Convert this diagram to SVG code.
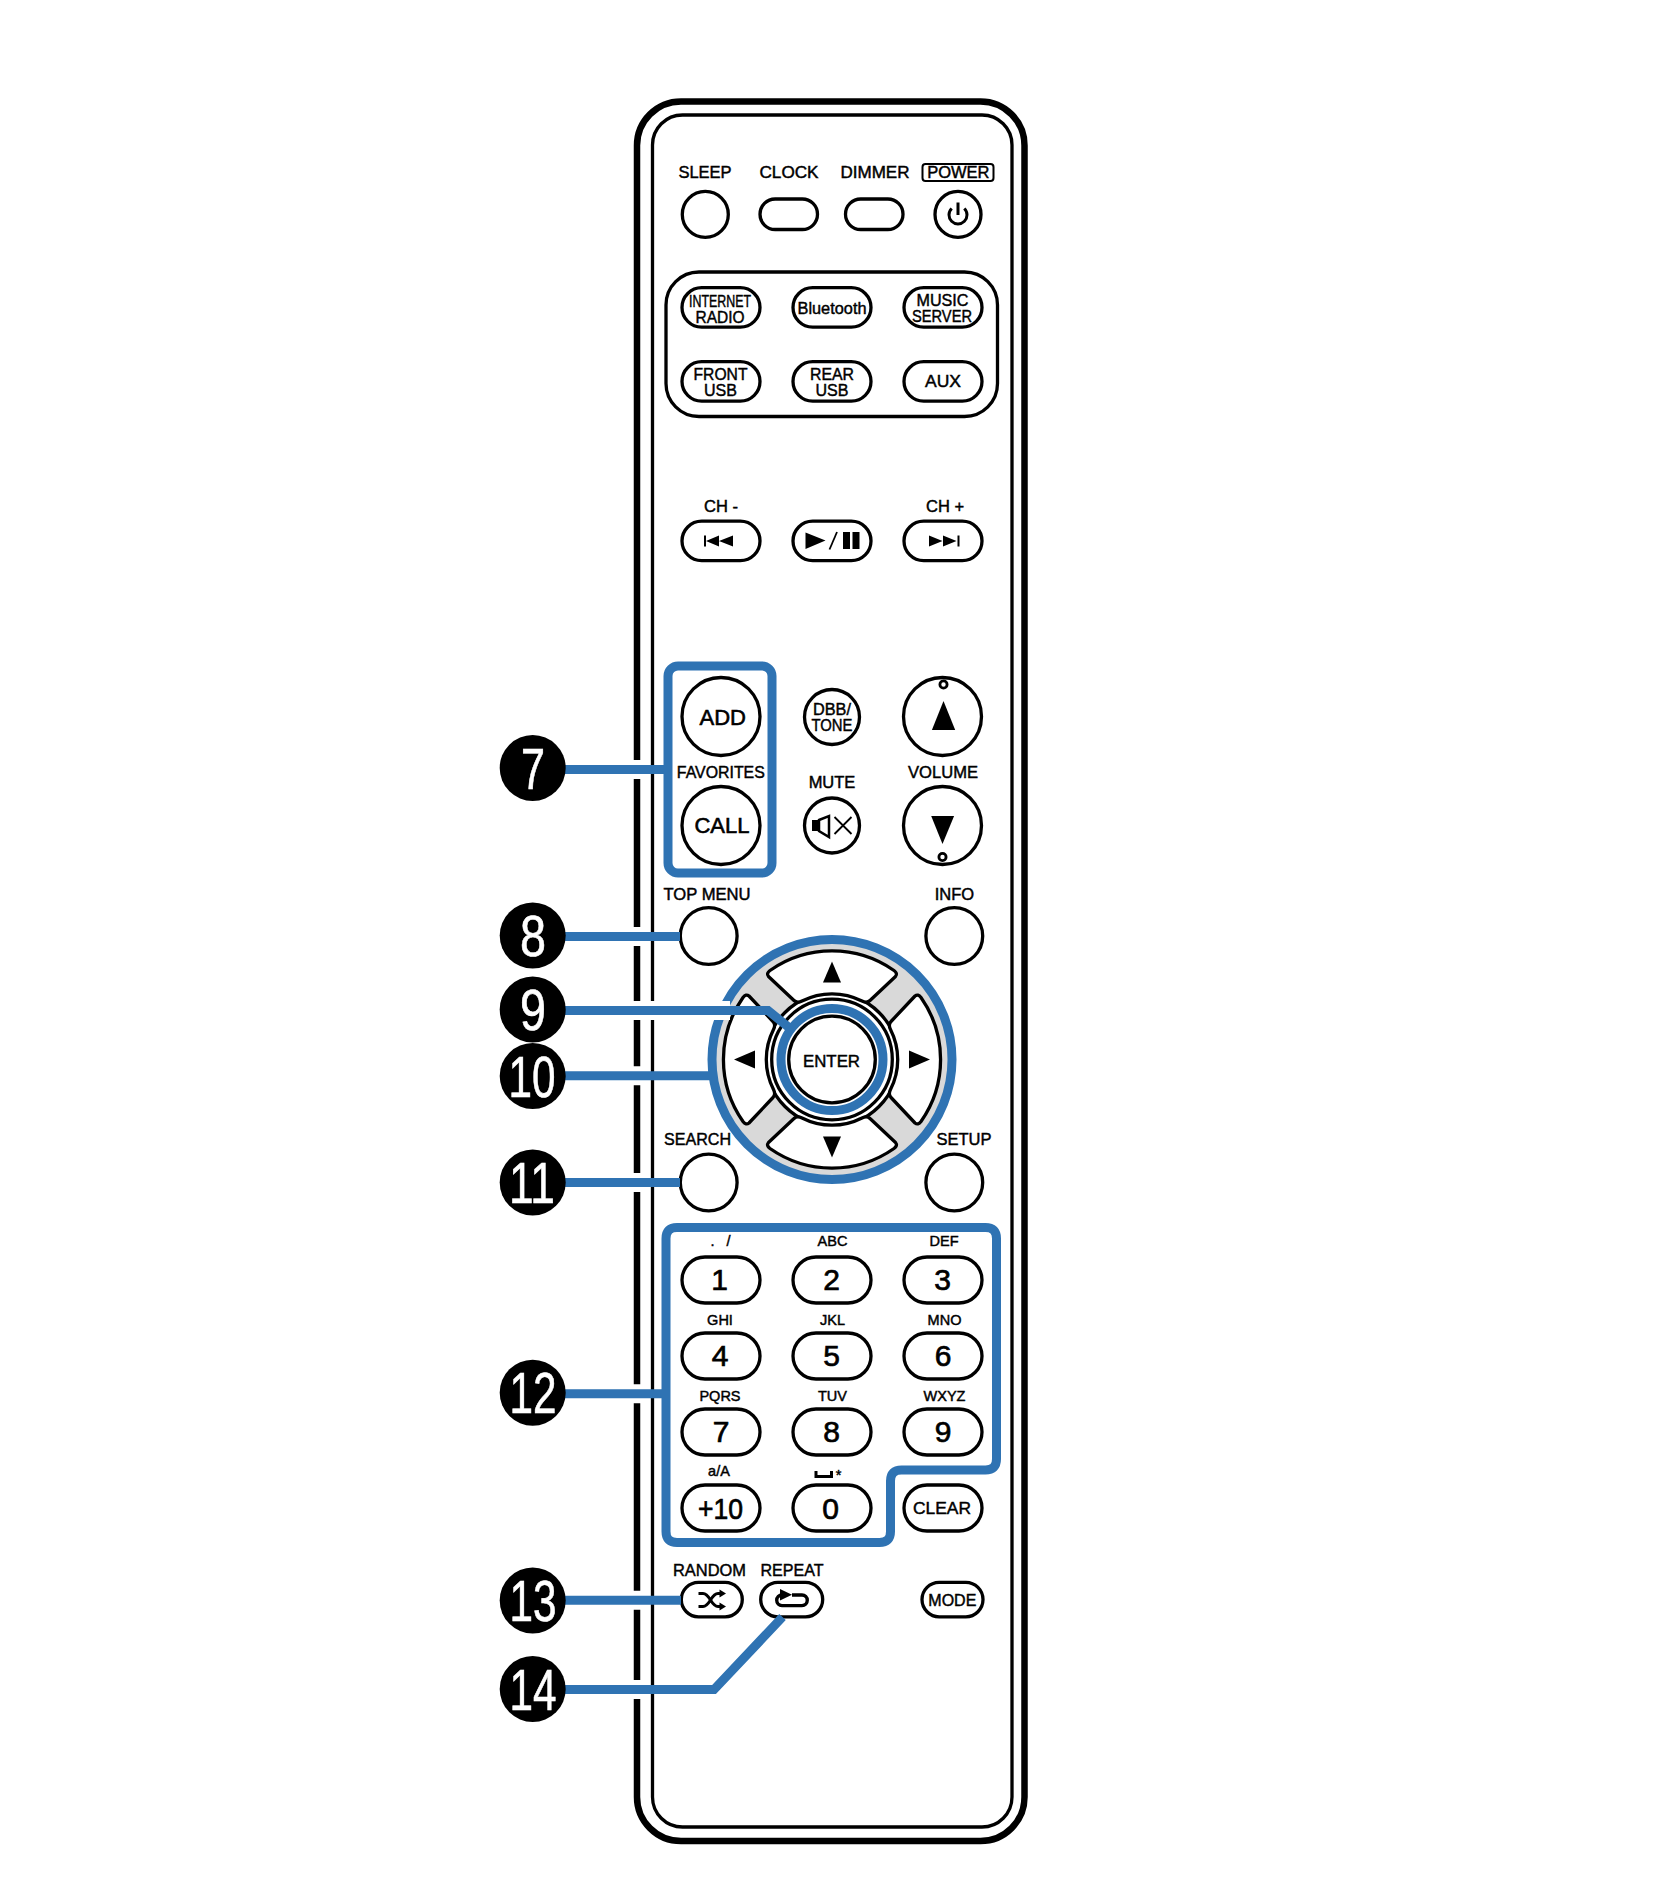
<svg xmlns="http://www.w3.org/2000/svg" width="1665" height="1878" viewBox="0 0 1665 1878">
<style>
text{font-family:"Liberation Sans",Arial,sans-serif;fill:#000;stroke:#000;stroke-width:.45;text-anchor:middle}
.s{font-size:16.5px}.m{font-size:17px}.k{font-size:14.5px}.d{font-size:30px;stroke-width:.7}.b{font-size:22px;stroke-width:.6}
.n{font-size:57px;fill:#fff;stroke:#fff;stroke-width:.6}
.o{fill:#fff;stroke:#000;stroke-width:3.3}
.f{fill:#000;stroke:none}
.l{fill:none;stroke:#000;stroke-width:3}
.halo{fill:none;stroke:#fff;stroke-width:19}
.lead{fill:none;stroke:#2f73b3;stroke-width:9}
.pad{fill:#fff;stroke:#000;stroke-width:3.3;stroke-linejoin:round}
</style>
<defs>
<path id="padbtn" class="pad" d="M-62,-89 A108,108 0 0 1 62,-89 Q66,-86 63.5,-83 L38,-59 Q35,-56 30,-58.5 A66,66 0 0 0 -30,-58.5 Q-35,-56 -38,-59 L-63.5,-83 Q-66,-86 -62,-89Z"/>
<polygon id="padtri" class="f" points="0,-98 9,-77 -9,-77"/>
</defs>
<rect width="1665" height="1878" fill="#fff"/>
<g id="body">
<rect x="637" y="101.5" width="387.5" height="1739.5" rx="44" fill="#fff" stroke="#000" stroke-width="6.5"/>
<rect x="652.5" y="115" width="359.5" height="1712" rx="30" fill="#fff" stroke="#000" stroke-width="3.3"/>
</g>
<g id="top-row">
<g id="sleep"><text class="s" x="705" y="178">SLEEP</text><circle class="o" cx="705.3" cy="214.4" r="23"/></g>
<g id="clock"><text class="s" x="789" y="178" textLength="59" lengthAdjust="spacingAndGlyphs">CLOCK</text><rect class="o" x="760" y="199" width="57.5" height="30.5" rx="15.2"/></g>
<g id="dimmer"><text class="s" x="875" y="178" textLength="69" lengthAdjust="spacingAndGlyphs">DIMMER</text><rect class="o" x="845.5" y="199" width="57.5" height="30.5" rx="15.2"/></g>
<g id="power"><rect x="922.5" y="164" width="71" height="17" rx="3" fill="none" stroke="#000" stroke-width="2"/><text class="s" x="958.3" y="178">POWER</text><circle class="o" cx="958" cy="214.4" r="23"/><path class="l" d="M951.7,208.5 A9,9 0 1 0 964.3,208.5 M958,202.5 V215"/></g>
</g>
<g id="source-group">
<rect x="666" y="272" width="331.5" height="144.5" rx="33" fill="none" stroke="#000" stroke-width="3.3"/>
<g id="internet-radio"><rect class="o" x="682" y="287.7" width="78" height="39.5" rx="19.7"/><text class="m" x="720" y="307" textLength="62" lengthAdjust="spacingAndGlyphs">INTERNET</text><text class="m" x="720" y="323" textLength="49" lengthAdjust="spacingAndGlyphs">RADIO</text></g>
<g id="bluetooth"><rect class="o" x="793" y="287.7" width="78" height="39.5" rx="19.7"/><text class="m" x="832" y="314" textLength="69" lengthAdjust="spacingAndGlyphs">Bluetooth</text></g>
<g id="music-server"><rect class="o" x="904" y="287.7" width="78" height="39.5" rx="19.7"/><text class="m" x="942.5" y="306" textLength="52" lengthAdjust="spacingAndGlyphs">MUSIC</text><text class="m" x="942" y="322" textLength="60" lengthAdjust="spacingAndGlyphs">SERVER</text></g>
<g id="front-usb"><rect class="o" x="682" y="361.7" width="78" height="39.5" rx="19.7"/><text class="m" x="720.5" y="380" textLength="54" lengthAdjust="spacingAndGlyphs">FRONT</text><text class="m" x="720.5" y="396" textLength="33" lengthAdjust="spacingAndGlyphs">USB</text></g>
<g id="rear-usb"><rect class="o" x="793" y="361.7" width="78" height="39.5" rx="19.7"/><text class="m" x="832" y="380" textLength="44" lengthAdjust="spacingAndGlyphs">REAR</text><text class="m" x="832" y="396" textLength="33" lengthAdjust="spacingAndGlyphs">USB</text></g>
<g id="aux"><rect class="o" x="904" y="361.7" width="78" height="39.5" rx="19.7"/><text class="m" x="943" y="387" textLength="36" lengthAdjust="spacingAndGlyphs">AUX</text></g>
</g>
<g id="transport">
<g id="ch-minus"><text class="s" x="721" y="512">CH -</text><rect class="o" x="682" y="521.2" width="78" height="39.5" rx="19.7"/><path class="f" d="M704,535.5 h2 v11 h-2z M706,541 L719,535.5 V546.5z M719,541 L733,535.5 V546.5z"/></g>
<g id="play-pause"><rect class="o" x="793" y="521.2" width="78" height="39.5" rx="19.7"/><path class="f" d="M805.5,532.5 L825.5,540.5 L805.5,549z M843,532 h7 v17 h-7z M852.5,532 h7 v17 h-7z"/><path fill="none" stroke="#000" stroke-width="1.8" d="M837,532 L829.5,549.5"/></g>
<g id="ch-plus"><text class="s" x="945" y="512">CH +</text><rect class="o" x="904" y="521.2" width="78" height="39.5" rx="19.7"/><path class="f" d="M929,535.5 L942.5,541 L929,546.5z M943,535.5 L956.5,541 L943,546.5z M957.5,535.5 h2 v11 h-2z"/></g>
</g>
<g id="favorites">
<g id="add"><circle class="o" cx="721" cy="716.5" r="39"/><text class="b" x="722.8" y="724.5">ADD</text></g>
<text class="s" x="720.8" y="777.5" textLength="88" lengthAdjust="spacingAndGlyphs">FAVORITES</text>
<g id="call"><circle class="o" cx="721" cy="825.5" r="39"/><text class="b" x="722" y="832.5">CALL</text></g>
</g>
<g id="dbb-tone"><circle class="o" cx="832" cy="717" r="27.5"/><text class="m" x="832" y="715" textLength="38" lengthAdjust="spacingAndGlyphs">DBB/</text><text class="m" x="832" y="731" textLength="41" lengthAdjust="spacingAndGlyphs">TONE</text></g>
<g id="mute"><text class="s" x="832" y="787.5">MUTE</text><circle class="o" cx="832" cy="825.5" r="27.5"/><path class="f" d="M812,820 h6 v11 h-6z"/><path fill="none" stroke="#000" stroke-width="2.5" d="M819,820 L829,816 V837 L819,831z"/><path fill="none" stroke="#000" stroke-width="1.8" d="M834.5,817 L851.5,834 M851.5,817 L834.5,834"/></g>
<g id="volume">
<g id="vol-up"><circle class="o" cx="942.5" cy="716.5" r="39"/><circle cx="943.5" cy="684.5" r="3.6" fill="#fff" stroke="#000" stroke-width="2.8"/><polygon class="f" points="943.5,701 955.2,730 931.9,730"/></g>
<text class="s" x="943" y="777.5" textLength="70" lengthAdjust="spacingAndGlyphs">VOLUME</text>
<g id="vol-down"><circle class="o" cx="942.5" cy="825.5" r="39"/><circle cx="942.5" cy="857" r="3.6" fill="#fff" stroke="#000" stroke-width="2.8"/><polygon class="f" points="942.5,844 954.1,816 931.2,816"/></g>
</g>
<g id="top-menu"><text class="s" x="707" y="899.5" textLength="87" lengthAdjust="spacingAndGlyphs">TOP MENU</text><circle class="o" cx="708.7" cy="936" r="28.4"/></g>
<g id="info"><text class="s" x="954.5" y="899.5">INFO</text><circle class="o" cx="954.3" cy="936" r="28.4"/></g>
<g id="search"><text class="s" x="697.5" y="1144.5" textLength="67" lengthAdjust="spacingAndGlyphs">SEARCH</text><circle class="o" cx="708.7" cy="1182.5" r="28.4"/></g>
<g id="setup"><text class="s" x="964" y="1144.5">SETUP</text><circle class="o" cx="954.3" cy="1182.5" r="28.4"/></g>
<g id="dpad">
<circle cx="832" cy="1059.5" r="120" fill="#d9d9d9"/>
<circle cx="832" cy="1059.5" r="66.5" fill="#fff" stroke="#000" stroke-width="3.3"/>
<g transform="translate(832 1059.5)">
<use href="#padbtn"/><use href="#padbtn" transform="rotate(90)"/><use href="#padbtn" transform="rotate(180)"/><use href="#padbtn" transform="rotate(270)"/>
<use href="#padtri"/><use href="#padtri" transform="rotate(90)"/><use href="#padtri" transform="rotate(180)"/><use href="#padtri" transform="rotate(270)"/>
</g>
<circle cx="832" cy="1059.5" r="60.3" fill="#fff" stroke="#000" stroke-width="3.3"/>
</g>
<g id="enter"><circle class="o" cx="832" cy="1059.5" r="43.3"/><text class="m" x="831.5" y="1066.5" textLength="57" lengthAdjust="spacingAndGlyphs">ENTER</text></g>
<g id="keypad">
<g id="k1"><text class="k" x="720.5" y="1246" textLength="20">. /</text><rect class="o" x="682" y="1257" width="78" height="46" rx="23"/><text class="d" x="719.5" y="1290">1</text></g>
<g id="k2"><text class="k" x="832.5" y="1246">ABC</text><rect class="o" x="793" y="1257" width="78" height="46" rx="23"/><text class="d" x="831.5" y="1290">2</text></g>
<g id="k3"><text class="k" x="944" y="1246">DEF</text><rect class="o" x="904" y="1257" width="78" height="46" rx="23"/><text class="d" x="942.5" y="1290">3</text></g>
<g id="k4"><text class="k" x="720" y="1325">GHI</text><rect class="o" x="682" y="1333" width="78" height="46" rx="23"/><text class="d" x="720" y="1366">4</text></g>
<g id="k5"><text class="k" x="832.5" y="1325">JKL</text><rect class="o" x="793" y="1333" width="78" height="46" rx="23"/><text class="d" x="831.5" y="1366">5</text></g>
<g id="k6"><text class="k" x="944.5" y="1325">MNO</text><rect class="o" x="904" y="1333" width="78" height="46" rx="23"/><text class="d" x="943" y="1366">6</text></g>
<g id="k7"><text class="k" x="720" y="1400.5">PQRS</text><rect class="o" x="682" y="1409" width="78" height="46" rx="23"/><text class="d" x="721" y="1442">7</text></g>
<g id="k8"><text class="k" x="832.5" y="1400.5">TUV</text><rect class="o" x="793" y="1409" width="78" height="46" rx="23"/><text class="d" x="831.5" y="1442">8</text></g>
<g id="k9"><text class="k" x="944.5" y="1400.5">WXYZ</text><rect class="o" x="904" y="1409" width="78" height="46" rx="23"/><text class="d" x="943" y="1442">9</text></g>
<g id="k10"><text class="k" x="719" y="1476">a/A</text><rect class="o" x="682" y="1485" width="78" height="46" rx="23"/><text class="d" x="720.5" y="1518.5" textLength="45" lengthAdjust="spacingAndGlyphs">+10</text></g>
<g id="k0"><path fill="none" stroke="#000" stroke-width="3" d="M816,1471 V1476.5 H831.5 V1471"/><text class="k" x="838.5" y="1480">*</text><rect class="o" x="793" y="1485" width="78" height="46" rx="23"/><text class="d" x="830.5" y="1518.5">0</text></g>
<g id="clear"><rect class="o" x="904" y="1485" width="78" height="46" rx="23"/><text class="m" x="942" y="1514" font-size="18" textLength="58" lengthAdjust="spacingAndGlyphs">CLEAR</text></g>
</g>
<g id="random"><text class="s" x="709.5" y="1576" textLength="73" lengthAdjust="spacingAndGlyphs">RANDOM</text><rect class="o" x="681.3" y="1582.3" width="61" height="34.5" rx="17.2"/><path fill="none" stroke="#000" stroke-width="3" d="M698.5,1593.5 H703 C710,1593.5 711,1606.5 718,1606.5 H722 M698.5,1606.5 H703 C710,1606.5 711,1593.5 718,1593.5 H722"/><path class="f" d="M719.5,1589.5 L726,1593.5 L719.5,1597.5z M719.5,1602.5 L726,1606.5 L719.5,1610.5z"/></g>
<g id="repeat"><text class="s" x="792" y="1576" textLength="63" lengthAdjust="spacingAndGlyphs">REPEAT</text><rect class="o" x="760.7" y="1582.3" width="62" height="34.5" rx="17.2"/><path fill="none" stroke="#000" stroke-width="3.4" d="M792,1595 H802 A5.3,5.3 0 0 1 802,1605.6 H782 A5.3,5.3 0 0 1 782,1595"/><polygon class="f" points="780,1589 792,1594.8 780,1600.5"/></g>
<g id="mode"><rect class="o" x="922" y="1582.3" width="61" height="34.5" rx="17.2"/><text class="m" x="952.3" y="1605.5" textLength="48" lengthAdjust="spacingAndGlyphs">MODE</text></g>
<g id="connectors">
<rect class="lead" x="668" y="666" width="104" height="207" rx="10"/>
<circle class="lead" cx="832" cy="1059.5" r="120"/>
<path class="halo" d="M560,769.5 H646 M560,936.5 H646 M560,1075.7 H646 M560,1182.5 H646 M560,1393.7 H646 M560,1600.3 H646 M560,1689.5 H646 M560,1010.5 H730"/>
<circle class="lead" cx="832" cy="1059.5" r="51"/>
<path class="lead" d="M677,1227.5 H985.5 Q996.5,1227.5 996.5,1238.5 V1459 Q996.5,1470 985.5,1470 H901.5 Q890.5,1470 890.5,1481 V1531.5 Q890.5,1542.5 879.5,1542.5 H677 Q666,1542.5 666,1531.5 V1238.5 Q666,1227.5 677,1227.5Z"/>
<path class="lead" d="M560,769.5 H664 M560,936.5 H680 M560,1010.5 H768 L788.3,1027 M560,1075.7 H710 M560,1182.5 H680 M560,1393.7 H662 M560,1600.3 H681 M560,1689.5 H714 L782.5,1617"/>
</g>
<g id="callouts">
<g id="c7"><circle cx="532.7" cy="768" r="33"/><text class="n" x="533" y="788.5" textLength="24" lengthAdjust="spacingAndGlyphs">7</text></g>
<g id="c8"><circle cx="532.7" cy="935.6" r="33"/><text class="n" x="533" y="956" textLength="26" lengthAdjust="spacingAndGlyphs">8</text></g>
<g id="c9"><circle cx="532.7" cy="1009.5" r="33"/><text class="n" x="533" y="1030" textLength="26" lengthAdjust="spacingAndGlyphs">9</text></g>
<g id="c10"><circle cx="532.7" cy="1076" r="33"/><text class="n" x="532" y="1096.5" textLength="47" lengthAdjust="spacingAndGlyphs">10</text></g>
<g id="c11"><circle cx="532.7" cy="1182.5" r="33"/><text class="n" x="532" y="1203" textLength="46" lengthAdjust="spacingAndGlyphs">11</text></g>
<g id="c12"><circle cx="532.7" cy="1392.7" r="33"/><text class="n" x="533" y="1413" textLength="47" lengthAdjust="spacingAndGlyphs">12</text></g>
<g id="c13"><circle cx="532.7" cy="1600.5" r="33"/><text class="n" x="533" y="1621" textLength="47" lengthAdjust="spacingAndGlyphs">13</text></g>
<g id="c14"><circle cx="532.7" cy="1689" r="33"/><text class="n" x="533" y="1709.5" textLength="47" lengthAdjust="spacingAndGlyphs">14</text></g>
</g>
</svg>
